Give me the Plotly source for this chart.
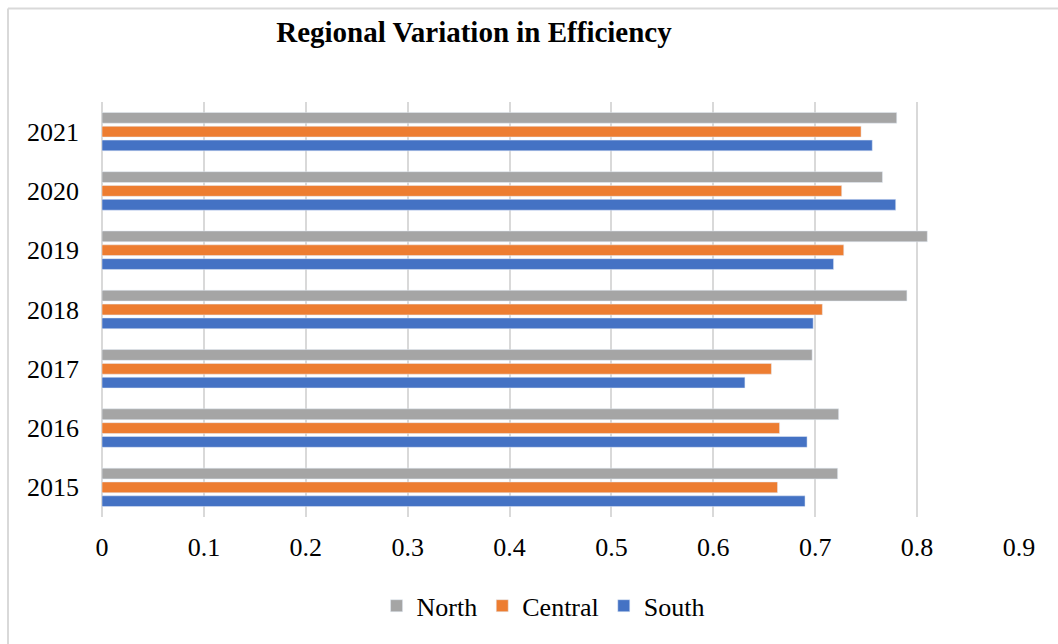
import plotly.graph_objects as go

years = ["2015", "2016", "2017", "2018", "2019", "2020", "2021"]
north = [0.722, 0.723, 0.697, 0.790, 0.810, 0.766, 0.780]
central = [0.663, 0.665, 0.657, 0.707, 0.728, 0.726, 0.745]
south = [0.690, 0.692, 0.631, 0.698, 0.718, 0.779, 0.756]
x_ticks = [0, 0.1, 0.2, 0.3, 0.4, 0.5, 0.6, 0.7, 0.8, 0.9]

FONT = "Liberation Serif, Times New Roman, serif"
GRID = "#d9d9d9"

fig = go.Figure()
# plotly puts the first trace at the bottom of each group, so South goes first
fig.add_trace(go.Bar(y=years, x=south, name="South", orientation="h", marker_color="#4472c4"))
fig.add_trace(go.Bar(y=years, x=central, name="Central", orientation="h", marker_color="#ed7d31"))
fig.add_trace(go.Bar(y=years, x=north, name="North", orientation="h", marker_color="#a5a5a5"))

fig.update_layout(
    width=1058, height=644,
    barmode="group", bargap=0.3, bargroupgap=0.22,
    paper_bgcolor="white", plot_bgcolor="white",
    margin=dict(l=102, r=39, t=102, b=127),
    font=dict(family=FONT, size=26, color="black"),
    title=dict(text="<b>Regional Variation in Efficiency</b>", x=0.448, xanchor="center",
               y=0.950, yanchor="middle", font=dict(family=FONT, size=29, color="black")),
    legend=dict(orientation="h", x=0.481, xanchor="center", y=-0.214, yanchor="middle",
                traceorder="reversed", font=dict(size=26), itemwidth=30),
    xaxis=dict(range=[0, 0.9], tickvals=x_ticks, ticktext=[f"{v:g}" for v in x_ticks],
               showgrid=True, gridcolor=GRID, gridwidth=2, zeroline=True, zerolinecolor=GRID,
               zerolinewidth=2, showline=False, ticks="", ticklabelstandoff=12),
    yaxis=dict(type="category", categoryorder="array", categoryarray=years,
               showgrid=False, zeroline=False, showline=False, ticks="", ticklabelstandoff=22),
    shapes=[
        # outer chart border (only top and left edges show in the reference)
        dict(type="line", xref="paper", yref="paper", x0=-0.1025, x1=1.05, y0=1.2256, y1=1.2256,
             line=dict(color=GRID, width=2)),
        dict(type="line", xref="paper", yref="paper", x0=-0.1025, x1=-0.1025, y0=-0.32, y1=1.2256,
             line=dict(color=GRID, width=2)),
    ],
)

# drop the browser's default body margin so the figure sits at the page origin
fig.write_html("out.html", config={"displayModeBar": False},
               post_script="document.body.style.margin='0';")
